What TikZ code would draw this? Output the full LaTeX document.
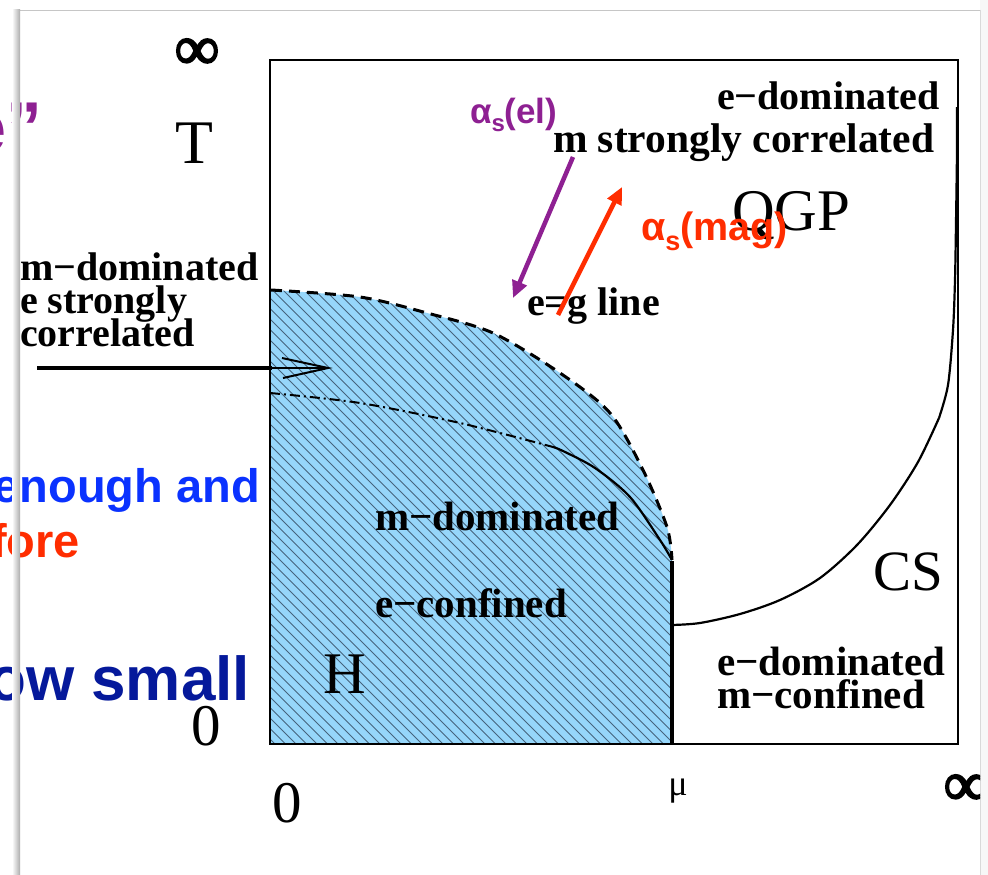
\documentclass[tikz,border=0pt]{standalone}
\usepackage{fontspec}
\setmainfont{Liberation Serif}
\newfontfamily\sansf{Liberation Sans}
\newfontfamily\inff[FakeBold=3]{Liberation Serif}
\usetikzlibrary{arrows.meta}
\definecolor{hfill}{RGB}{150,214,250}
\definecolor{hline}{RGB}{70,100,125}
\definecolor{purp}{RGB}{142,32,146}
\definecolor{redo}{RGB}{255,45,0}
\definecolor{blu}{RGB}{10,50,255}
\definecolor{dblu}{RGB}{5,25,155}
\tikzset{
  txt/.style={inner sep=0pt,outer sep=0pt,anchor=base west},
  bl/.style={txt,font=\bfseries\fontsize{40}{40}\selectfont},
  blb/.style={txt,font=\bfseries\fontsize{41}{41}\selectfont},
  rm/.style={txt,font=\fontsize{59}{59}\selectfont},
  sl/.style={inner sep=0pt,outer sep=0pt,anchor=base east,font=\sansf\bfseries\fontsize{47}{47}\selectfont},
  infsym/.style={inner sep=0pt,font=\inff\fontsize{63}{63}\selectfont},
  curve/.style={line width=2.2pt,line join=round},
  bound/.style={line width=3pt,dash pattern=on 11pt off 7pt},
  dashdot/.style={line width=2pt,dash pattern=on 10pt off 4pt on 2pt off 4pt},
  coupl/.style={line width=4.5pt,-{Triangle[length=17pt,width=15pt]}},
}
\begin{document}
\begin{tikzpicture}[x=1pt,y=-1pt]
\useasboundingbox (0,0) rectangle (988,875);
% panel
\fill[white] (0,0) rectangle (988,875);
\fill[gray!6] (980,0) rectangle (988,875);
\fill[white] (20,10) rectangle (980,875);
\draw[gray!45,line width=0.8pt] (20,10) -- (980,10);
\draw[gray!30,line width=0.8pt] (980,10) -- (980,875);
% slide texts on the left
\node[sl,text=purp,font=\sansf\bfseries\fontsize{72}{72}\selectfont] (t1) at (43,152) {e”};
\node[sl,text=blu] (t2) at (260,502) {enough and};
\node[sl,text=redo] (t3) at (80,557) {fore};
\node[sl,text=dblu,font=\sansf\bfseries\fontsize{62}{62}\selectfont] (t4) at (250,700) {ow small};
\shade[left color=white,right color=gray!65] (12,10) rectangle (20,875);
% hadron region
\path[fill=hfill] (270,290) -- plot[smooth] coordinates {(271,290) (360,297) (427,313) (493,333) (560,373) (610,413) (643,470) (667,527) (672,560)} -- (672,744) -- (270,744) -- cycle;
\begin{scope}
\clip (270,290) -- plot[smooth] coordinates {(271,290) (360,297) (427,313) (493,333) (560,373) (610,413) (643,470) (667,527) (672,560)} -- (672,744) -- (270,744) -- cycle;
\foreach \k in {-480,-469.5,...,420} \draw[hline,line width=1pt] (270+\k,280) -- (750+\k,760);
\end{scope}
% boundaries
\draw[bound] plot[smooth] coordinates {(271,290) (360,297) (427,313) (493,333) (560,373) (610,413) (643,470) (667,527) (672,560)};
\draw[dashdot] plot[smooth] coordinates {(270,393) (360,403) (460,423) (553,447)};
\draw[curve] plot[smooth] coordinates {(553,447) (563,451) (595,468) (630,497) (660,540) (672,560)};
\draw[line width=3.2pt] (672,561) -- (672,744);
\draw[curve] plot[smooth] coordinates {(672,625) (700,623) (740,614) (780,600) (820,578) (857,545) (890,505) (918,462) (939,418)};
\draw[curve] plot[smooth] coordinates {(939,418) (948,385) (953,330) (955,280) (956,223) (957,150) (957,107)};
% frame
\draw[line width=1.5pt] (270,60) rectangle (958,744);
% axis labels
\node[infsym] (inftyT) at (197,54) {∞};
\node[rm,anchor=base,font=\fontsize{62}{62}\selectfont] (T) at (194,163) {T};
\node[rm,anchor=base] (zeroT) at (206,745) {0};
\node[rm,anchor=base] (zeroM) at (287,822) {0};
\node[rm,anchor=base,font=\fontsize{36}{36}\selectfont] (mu) at (678,795) {μ};
\begin{scope}
\clip (0,0) rectangle (980,875);
\node[infsym] (inftyM) at (966,790) {∞};
\end{scope}
% region labels
\node[rm] (qgp) at (732,230) {QGP};
\node[rm,font=\fontsize{57}{57}\selectfont] (cs) at (873,590) {CS};
\node[rm] (h) at (323,693) {H};
\node[bl] (a1) at (717,110) {e−dominated};
\node[txt,font=\bfseries\fontsize{41.5}{41.5}\selectfont] (a2) at (553,152) {m strongly correlated};
\node[bl] (eg) at (527,315) {e=g line};
\node[bl] (b1) at (20,280) {m−dominated};
\node[bl] (b2) at (20,313) {e strongly};
\node[bl] (b3) at (20,346) {correlated};
\node[blb] (c1) at (375,530) {m−dominated};
\node[blb] (c2) at (375,617) {e−confined};
\node[blb] (d1) at (717,675) {e−dominated};
\node[blb] (d2) at (717,708) {m−confined};
% coupling arrows
\coordinate (pS) at (573,157);
\coordinate (pE) at (513,298);
\coordinate (rS) at (558,315);
\coordinate (rE) at (622,187);
\draw[coupl,purp] (pS) -- (pE);
\draw[coupl,redo] (rS) -- (rE);
\node[txt,text=purp,font=\sansf\bfseries\fontsize{35}{35}\selectfont] (ael) at (470,123) {α\raisebox{-9pt}{\fontsize{24}{24}\selectfont s}(el)};
\node[txt,text=redo,font=\sansf\bfseries\fontsize{39.5}{39.5}\selectfont] (amag) at (641,240) {α\raisebox{-10pt}{\fontsize{27}{27}\selectfont s}(mag)};
% black arrow
\coordinate (kS) at (37,368);
\coordinate (kM) at (272,368);
\coordinate (kT) at (328,368);
\coordinate (kA) at (282,358);
\coordinate (kB) at (283,378);
\draw[line width=4pt] (kS) -- (kM);
\draw[line width=2pt] (kM) -- (kT);
\draw[line width=2pt,line join=miter] (kA) -- (kT) -- (kB);
\end{tikzpicture}
\end{document}
